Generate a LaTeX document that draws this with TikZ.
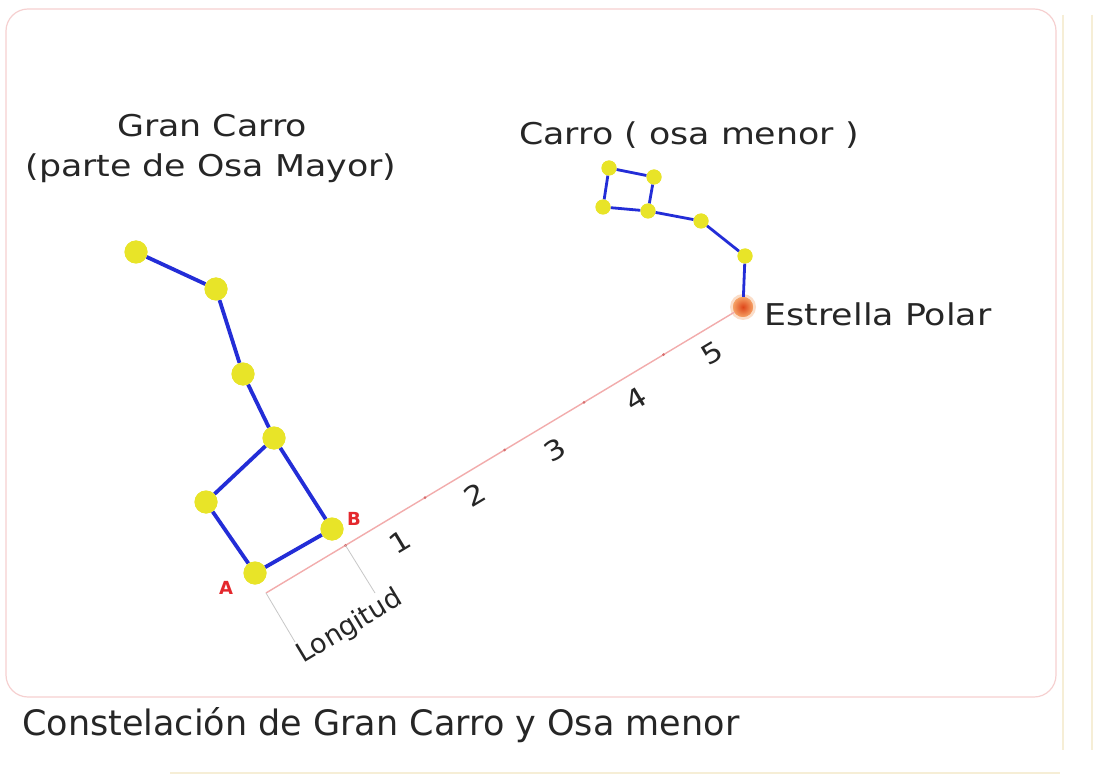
\documentclass[tikz,border=0pt]{standalone}
\usepackage{fontspec}
\setmainfont{DejaVu Sans}
\newfontfamily\wide[FakeStretch=1.16]{DejaVu Sans}
\usetikzlibrary{calc}
\definecolor{staryellow}{RGB}{232,228,40}
\definecolor{lineblue}{RGB}{35,45,215}
\definecolor{guide}{RGB}{242,172,172}
\definecolor{tickc}{RGB}{215,110,110}
\definecolor{framec}{RGB}{246,208,208}
\definecolor{labred}{RGB}{228,40,45}
\definecolor{beige}{RGB}{246,238,214}
\definecolor{txt}{RGB}{38,38,38}
\definecolor{polin}{RGB}{222,70,25}
\definecolor{polout}{RGB}{245,160,100}
\begin{document}
\begin{tikzpicture}[x=1pt,y=-1pt,
  bigstar/.style={circle,fill=staryellow,minimum size=23pt,inner sep=0pt},
  smallstar/.style={circle,fill=staryellow,minimum size=15pt,inner sep=0pt},
  bigedge/.style={draw=lineblue,line width=3.8pt},
  smalledge/.style={draw=lineblue,line width=2.8pt},
  title/.style={font=\wide\fontsize{30}{36}\selectfont,text=txt,anchor=base},
  num/.style={font=\wide\fontsize{27}{30}\selectfont,text=txt,rotate=31},
  ab/.style={font=\bfseries\fontsize{18}{20}\selectfont,text=labred},
  bracket/.style={draw=black!22,line width=0.8pt},
]
\useasboundingbox (0,0) rectangle (1094,775);
\fill[white] (0,0) rectangle (1094,775);
% frame and screenshot edges
\draw[framec,line width=1.2pt,rounded corners=22pt] (6,9) rectangle (1056,697);
\draw[beige,line width=1.5pt] (1063,15) -- (1063,750);
\draw[beige,line width=1.5pt] (1092,15) -- (1092,750);
\draw[beige,line width=1.2pt] (170,773) -- (1060,773);

% stars of the Big Dipper
\node[bigstar] (s1) at (136,252) {};
\node[bigstar] (s2) at (216,289) {};
\node[bigstar] (s3) at (243,374) {};
\node[bigstar] (s4) at (274,438) {};
\node[bigstar] (s5) at (206,502) {};
\node[bigstar] (A) at (255,573) {};
\node[bigstar] (B) at (332,529) {};
% stars of the Little Dipper
\node[smallstar] (u1) at (609,168) {};
\node[smallstar] (u2) at (654,177) {};
\node[smallstar] (u3) at (603,207) {};
\node[smallstar] (u4) at (648,211) {};
\node[smallstar] (u5) at (701,221) {};
\node[smallstar] (u6) at (745,256) {};
\fill[polout,opacity=0.35] (743,307) circle (13pt);
\node[circle,minimum size=20pt,inner sep=0pt,inner color=polin,outer color=polout] (P) at (743,307) {};

% guide line
\coordinate (L0) at (266,593);
\draw[guide,line width=1.4pt] (L0) -- (P.center);
\foreach \k in {1,...,5}{
  \fill[tickc] ($(L0)!{\k/6}!(P.center)$) circle (1.5pt);
}
\coordinate (T1) at ($(L0)!{1/6}!(P.center)$);
\coordinate (b0) at (295,642);
\coordinate (b1) at (375,593);
\draw[bracket] (L0) -- (b0);
\draw[bracket] (T1) -- (b1);

% edges
\path[bigedge] (s1) -- (s2) (s2) -- (s3) (s3) -- (s4) (s4) -- (s5) (s5) -- (A) (A) -- (B) (B) -- (s4);
\path[smalledge] (u1) -- (u2) (u1) -- (u3) (u2) -- (u4) (u3) -- (u4) (u4) -- (u5) (u5) -- (u6) (u6) -- (P);
% redraw stars on top
\foreach \n in {s1,s2,s3,s4,s5,A,B}{\fill[staryellow] (\n.center) circle (11.5pt);}
\foreach \n in {u1,u2,u3,u4,u5,u6}{\fill[staryellow] (\n.center) circle (7.5pt);}
\shade[inner color=polin,outer color=polout] (P.center) circle (10pt);

% labels
\node[ab] (la) at (226,588) {A};
\node[ab] (lb) at (354,519) {B};
\node[num] (n1) at (400,542) {1};
\node[num] (n2) at (475,495) {2};
\node[num] (n3) at (555,450) {3};
\node[num] (n4) at (636,399) {4};
\node[num] (n5) at (712,353) {5};
\node[font=\fontsize{27}{30}\selectfont,text=txt,rotate=31] (lon) at (350,627) {Longitud};

\node[title] (t1) at (212,137) {Gran Carro};
\node[title] (t2) at (211,177) {(parte de Osa Mayor)};
\node[title] (t3) at (689,145) {Carro ( osa menor )};
\node[title] (t4) at (878,325) {Estrella Polar};
\node[font=\fontsize{35}{40}\selectfont,text=txt,anchor=base west,inner sep=0pt] (cap) at (22,735) {Constelación de Gran Carro y Osa menor};
\end{tikzpicture}
\end{document}
